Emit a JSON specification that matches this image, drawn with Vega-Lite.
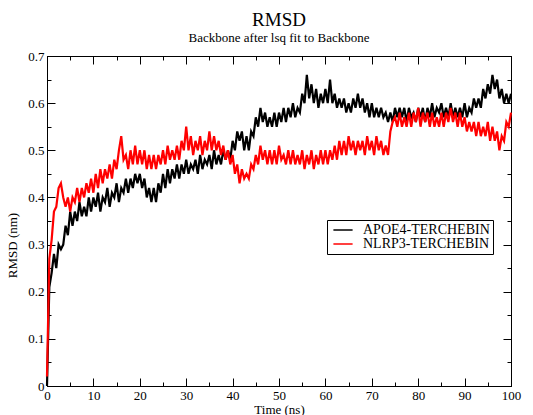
{
  "$schema": "https://vega.github.io/schema/vega-lite/v6.json",
  "width": 464,
  "height": 330,
  "autosize": {"type": "none"},
  "padding": {"left": 47, "top": 56, "right": 22, "bottom": 29},
  "background": "white",
  "config": {
    "font": "Liberation Serif",
    "view": {"stroke": "black", "strokeWidth": 1},
    "axis": {"labelFont": "Liberation Serif", "titleFont": "Liberation Serif"},
    "legend": {"labelFont": "Liberation Serif"}
  },
  "title": {
    "text": "RMSD",
    "subtitle": "Backbone after lsq fit to Backbone",
    "fontSize": 19,
    "fontWeight": "normal",
    "subtitleFontSize": 13,
    "subtitlePadding": 2,
    "offset": 5,
    "anchor": "middle",
    "color": "black",
    "subtitleColor": "black",
    "font": "Liberation Serif",
    "subtitleFont": "Liberation Serif"
  },
  "datasets": {
    "rmsd": [
{"t":0,"v":0.00,"s":"APOE4-TERCHEBIN"},{"t":0.5,"v":0.21,"s":"APOE4-TERCHEBIN"},{"t":1,"v":0.24,"s":"APOE4-TERCHEBIN"},{"t":1.5,"v":0.28,"s":"APOE4-TERCHEBIN"},{"t":2,"v":0.25,"s":"APOE4-TERCHEBIN"},{"t":2.5,"v":0.30,"s":"APOE4-TERCHEBIN"},{"t":3,"v":0.29,"s":"APOE4-TERCHEBIN"},{"t":3.5,"v":0.30,"s":"APOE4-TERCHEBIN"},{"t":4,"v":0.34,"s":"APOE4-TERCHEBIN"},{"t":4.5,"v":0.32,"s":"APOE4-TERCHEBIN"},
{"t":5,"v":0.37,"s":"APOE4-TERCHEBIN"},{"t":5.5,"v":0.34,"s":"APOE4-TERCHEBIN"},{"t":6,"v":0.37,"s":"APOE4-TERCHEBIN"},{"t":6.5,"v":0.35,"s":"APOE4-TERCHEBIN"},{"t":7,"v":0.39,"s":"APOE4-TERCHEBIN"},{"t":7.5,"v":0.36,"s":"APOE4-TERCHEBIN"},{"t":8,"v":0.38,"s":"APOE4-TERCHEBIN"},{"t":8.5,"v":0.36,"s":"APOE4-TERCHEBIN"},{"t":9,"v":0.40,"s":"APOE4-TERCHEBIN"},{"t":9.5,"v":0.37,"s":"APOE4-TERCHEBIN"},
{"t":10,"v":0.40,"s":"APOE4-TERCHEBIN"},{"t":10.5,"v":0.38,"s":"APOE4-TERCHEBIN"},{"t":11,"v":0.41,"s":"APOE4-TERCHEBIN"},{"t":11.5,"v":0.37,"s":"APOE4-TERCHEBIN"},{"t":12,"v":0.40,"s":"APOE4-TERCHEBIN"},{"t":12.5,"v":0.39,"s":"APOE4-TERCHEBIN"},{"t":13,"v":0.42,"s":"APOE4-TERCHEBIN"},{"t":13.5,"v":0.38,"s":"APOE4-TERCHEBIN"},{"t":14,"v":0.41,"s":"APOE4-TERCHEBIN"},{"t":14.5,"v":0.40,"s":"APOE4-TERCHEBIN"},
{"t":15,"v":0.43,"s":"APOE4-TERCHEBIN"},{"t":15.5,"v":0.39,"s":"APOE4-TERCHEBIN"},{"t":16,"v":0.42,"s":"APOE4-TERCHEBIN"},{"t":16.5,"v":0.41,"s":"APOE4-TERCHEBIN"},{"t":17,"v":0.44,"s":"APOE4-TERCHEBIN"},{"t":17.5,"v":0.41,"s":"APOE4-TERCHEBIN"},{"t":18,"v":0.44,"s":"APOE4-TERCHEBIN"},{"t":18.5,"v":0.42,"s":"APOE4-TERCHEBIN"},{"t":19,"v":0.45,"s":"APOE4-TERCHEBIN"},{"t":19.5,"v":0.43,"s":"APOE4-TERCHEBIN"},
{"t":20,"v":0.45,"s":"APOE4-TERCHEBIN"},{"t":20.5,"v":0.42,"s":"APOE4-TERCHEBIN"},{"t":21,"v":0.44,"s":"APOE4-TERCHEBIN"},{"t":21.5,"v":0.40,"s":"APOE4-TERCHEBIN"},{"t":22,"v":0.42,"s":"APOE4-TERCHEBIN"},{"t":22.5,"v":0.39,"s":"APOE4-TERCHEBIN"},{"t":23,"v":0.42,"s":"APOE4-TERCHEBIN"},{"t":23.5,"v":0.39,"s":"APOE4-TERCHEBIN"},{"t":24,"v":0.43,"s":"APOE4-TERCHEBIN"},{"t":24.5,"v":0.41,"s":"APOE4-TERCHEBIN"},
{"t":25,"v":0.45,"s":"APOE4-TERCHEBIN"},{"t":25.5,"v":0.42,"s":"APOE4-TERCHEBIN"},{"t":26,"v":0.46,"s":"APOE4-TERCHEBIN"},{"t":26.5,"v":0.43,"s":"APOE4-TERCHEBIN"},{"t":27,"v":0.46,"s":"APOE4-TERCHEBIN"},{"t":27.5,"v":0.44,"s":"APOE4-TERCHEBIN"},{"t":28,"v":0.47,"s":"APOE4-TERCHEBIN"},{"t":28.5,"v":0.44,"s":"APOE4-TERCHEBIN"},{"t":29,"v":0.47,"s":"APOE4-TERCHEBIN"},{"t":29.5,"v":0.45,"s":"APOE4-TERCHEBIN"},
{"t":30,"v":0.48,"s":"APOE4-TERCHEBIN"},{"t":30.5,"v":0.45,"s":"APOE4-TERCHEBIN"},{"t":31,"v":0.47,"s":"APOE4-TERCHEBIN"},{"t":31.5,"v":0.46,"s":"APOE4-TERCHEBIN"},{"t":32,"v":0.48,"s":"APOE4-TERCHEBIN"},{"t":32.5,"v":0.45,"s":"APOE4-TERCHEBIN"},{"t":33,"v":0.49,"s":"APOE4-TERCHEBIN"},{"t":33.5,"v":0.46,"s":"APOE4-TERCHEBIN"},{"t":34,"v":0.48,"s":"APOE4-TERCHEBIN"},{"t":34.5,"v":0.47,"s":"APOE4-TERCHEBIN"},
{"t":35,"v":0.49,"s":"APOE4-TERCHEBIN"},{"t":35.5,"v":0.46,"s":"APOE4-TERCHEBIN"},{"t":36,"v":0.50,"s":"APOE4-TERCHEBIN"},{"t":36.5,"v":0.47,"s":"APOE4-TERCHEBIN"},{"t":37,"v":0.49,"s":"APOE4-TERCHEBIN"},{"t":37.5,"v":0.47,"s":"APOE4-TERCHEBIN"},{"t":38,"v":0.50,"s":"APOE4-TERCHEBIN"},{"t":38.5,"v":0.48,"s":"APOE4-TERCHEBIN"},{"t":39,"v":0.50,"s":"APOE4-TERCHEBIN"},{"t":39.5,"v":0.48,"s":"APOE4-TERCHEBIN"},
{"t":40,"v":0.52,"s":"APOE4-TERCHEBIN"},{"t":40.5,"v":0.50,"s":"APOE4-TERCHEBIN"},{"t":41,"v":0.54,"s":"APOE4-TERCHEBIN"},{"t":41.5,"v":0.52,"s":"APOE4-TERCHEBIN"},{"t":42,"v":0.54,"s":"APOE4-TERCHEBIN"},{"t":42.5,"v":0.50,"s":"APOE4-TERCHEBIN"},{"t":43,"v":0.53,"s":"APOE4-TERCHEBIN"},{"t":43.5,"v":0.50,"s":"APOE4-TERCHEBIN"},{"t":44,"v":0.54,"s":"APOE4-TERCHEBIN"},{"t":44.5,"v":0.53,"s":"APOE4-TERCHEBIN"},
{"t":45,"v":0.57,"s":"APOE4-TERCHEBIN"},{"t":45.5,"v":0.55,"s":"APOE4-TERCHEBIN"},{"t":46,"v":0.59,"s":"APOE4-TERCHEBIN"},{"t":46.5,"v":0.56,"s":"APOE4-TERCHEBIN"},{"t":47,"v":0.58,"s":"APOE4-TERCHEBIN"},{"t":47.5,"v":0.55,"s":"APOE4-TERCHEBIN"},{"t":48,"v":0.57,"s":"APOE4-TERCHEBIN"},{"t":48.5,"v":0.55,"s":"APOE4-TERCHEBIN"},{"t":49,"v":0.58,"s":"APOE4-TERCHEBIN"},{"t":49.5,"v":0.55,"s":"APOE4-TERCHEBIN"},
{"t":50,"v":0.58,"s":"APOE4-TERCHEBIN"},{"t":50.5,"v":0.56,"s":"APOE4-TERCHEBIN"},{"t":51,"v":0.59,"s":"APOE4-TERCHEBIN"},{"t":51.5,"v":0.56,"s":"APOE4-TERCHEBIN"},{"t":52,"v":0.59,"s":"APOE4-TERCHEBIN"},{"t":52.5,"v":0.57,"s":"APOE4-TERCHEBIN"},{"t":53,"v":0.60,"s":"APOE4-TERCHEBIN"},{"t":53.5,"v":0.57,"s":"APOE4-TERCHEBIN"},{"t":54,"v":0.59,"s":"APOE4-TERCHEBIN"},{"t":54.5,"v":0.58,"s":"APOE4-TERCHEBIN"},
{"t":55,"v":0.62,"s":"APOE4-TERCHEBIN"},{"t":55.5,"v":0.60,"s":"APOE4-TERCHEBIN"},{"t":56,"v":0.66,"s":"APOE4-TERCHEBIN"},{"t":56.5,"v":0.61,"s":"APOE4-TERCHEBIN"},{"t":57,"v":0.64,"s":"APOE4-TERCHEBIN"},{"t":57.5,"v":0.60,"s":"APOE4-TERCHEBIN"},{"t":58,"v":0.63,"s":"APOE4-TERCHEBIN"},{"t":58.5,"v":0.59,"s":"APOE4-TERCHEBIN"},{"t":59,"v":0.62,"s":"APOE4-TERCHEBIN"},{"t":59.5,"v":0.60,"s":"APOE4-TERCHEBIN"},
{"t":60,"v":0.63,"s":"APOE4-TERCHEBIN"},{"t":60.5,"v":0.60,"s":"APOE4-TERCHEBIN"},{"t":61,"v":0.65,"s":"APOE4-TERCHEBIN"},{"t":61.5,"v":0.60,"s":"APOE4-TERCHEBIN"},{"t":62,"v":0.62,"s":"APOE4-TERCHEBIN"},{"t":62.5,"v":0.59,"s":"APOE4-TERCHEBIN"},{"t":63,"v":0.61,"s":"APOE4-TERCHEBIN"},{"t":63.5,"v":0.59,"s":"APOE4-TERCHEBIN"},{"t":64,"v":0.61,"s":"APOE4-TERCHEBIN"},{"t":64.5,"v":0.58,"s":"APOE4-TERCHEBIN"},
{"t":65,"v":0.60,"s":"APOE4-TERCHEBIN"},{"t":65.5,"v":0.58,"s":"APOE4-TERCHEBIN"},{"t":66,"v":0.61,"s":"APOE4-TERCHEBIN"},{"t":66.5,"v":0.59,"s":"APOE4-TERCHEBIN"},{"t":67,"v":0.62,"s":"APOE4-TERCHEBIN"},{"t":67.5,"v":0.59,"s":"APOE4-TERCHEBIN"},{"t":68,"v":0.61,"s":"APOE4-TERCHEBIN"},{"t":68.5,"v":0.58,"s":"APOE4-TERCHEBIN"},{"t":69,"v":0.60,"s":"APOE4-TERCHEBIN"},{"t":69.5,"v":0.57,"s":"APOE4-TERCHEBIN"},
{"t":70,"v":0.60,"s":"APOE4-TERCHEBIN"},{"t":70.5,"v":0.57,"s":"APOE4-TERCHEBIN"},{"t":71,"v":0.59,"s":"APOE4-TERCHEBIN"},{"t":71.5,"v":0.57,"s":"APOE4-TERCHEBIN"},{"t":72,"v":0.59,"s":"APOE4-TERCHEBIN"},{"t":72.5,"v":0.57,"s":"APOE4-TERCHEBIN"},{"t":73,"v":0.58,"s":"APOE4-TERCHEBIN"},{"t":73.5,"v":0.56,"s":"APOE4-TERCHEBIN"},{"t":74,"v":0.58,"s":"APOE4-TERCHEBIN"},{"t":74.5,"v":0.56,"s":"APOE4-TERCHEBIN"},
{"t":75,"v":0.59,"s":"APOE4-TERCHEBIN"},{"t":75.5,"v":0.57,"s":"APOE4-TERCHEBIN"},{"t":76,"v":0.59,"s":"APOE4-TERCHEBIN"},{"t":76.5,"v":0.57,"s":"APOE4-TERCHEBIN"},{"t":77,"v":0.59,"s":"APOE4-TERCHEBIN"},{"t":77.5,"v":0.56,"s":"APOE4-TERCHEBIN"},{"t":78,"v":0.59,"s":"APOE4-TERCHEBIN"},{"t":78.5,"v":0.57,"s":"APOE4-TERCHEBIN"},{"t":79,"v":0.58,"s":"APOE4-TERCHEBIN"},{"t":79.5,"v":0.56,"s":"APOE4-TERCHEBIN"},
{"t":80,"v":0.59,"s":"APOE4-TERCHEBIN"},{"t":80.5,"v":0.57,"s":"APOE4-TERCHEBIN"},{"t":81,"v":0.59,"s":"APOE4-TERCHEBIN"},{"t":81.5,"v":0.56,"s":"APOE4-TERCHEBIN"},{"t":82,"v":0.59,"s":"APOE4-TERCHEBIN"},{"t":82.5,"v":0.57,"s":"APOE4-TERCHEBIN"},{"t":83,"v":0.60,"s":"APOE4-TERCHEBIN"},{"t":83.5,"v":0.57,"s":"APOE4-TERCHEBIN"},{"t":84,"v":0.59,"s":"APOE4-TERCHEBIN"},{"t":84.5,"v":0.58,"s":"APOE4-TERCHEBIN"},
{"t":85,"v":0.60,"s":"APOE4-TERCHEBIN"},{"t":85.5,"v":0.57,"s":"APOE4-TERCHEBIN"},{"t":86,"v":0.59,"s":"APOE4-TERCHEBIN"},{"t":86.5,"v":0.57,"s":"APOE4-TERCHEBIN"},{"t":87,"v":0.60,"s":"APOE4-TERCHEBIN"},{"t":87.5,"v":0.57,"s":"APOE4-TERCHEBIN"},{"t":88,"v":0.59,"s":"APOE4-TERCHEBIN"},{"t":88.5,"v":0.57,"s":"APOE4-TERCHEBIN"},{"t":89,"v":0.59,"s":"APOE4-TERCHEBIN"},{"t":89.5,"v":0.57,"s":"APOE4-TERCHEBIN"},
{"t":90,"v":0.60,"s":"APOE4-TERCHEBIN"},{"t":90.5,"v":0.57,"s":"APOE4-TERCHEBIN"},{"t":91,"v":0.59,"s":"APOE4-TERCHEBIN"},{"t":91.5,"v":0.58,"s":"APOE4-TERCHEBIN"},{"t":92,"v":0.61,"s":"APOE4-TERCHEBIN"},{"t":92.5,"v":0.59,"s":"APOE4-TERCHEBIN"},{"t":93,"v":0.61,"s":"APOE4-TERCHEBIN"},{"t":93.5,"v":0.59,"s":"APOE4-TERCHEBIN"},{"t":94,"v":0.63,"s":"APOE4-TERCHEBIN"},{"t":94.5,"v":0.61,"s":"APOE4-TERCHEBIN"},
{"t":95,"v":0.64,"s":"APOE4-TERCHEBIN"},{"t":95.5,"v":0.62,"s":"APOE4-TERCHEBIN"},{"t":96,"v":0.66,"s":"APOE4-TERCHEBIN"},{"t":96.5,"v":0.63,"s":"APOE4-TERCHEBIN"},{"t":97,"v":0.65,"s":"APOE4-TERCHEBIN"},{"t":97.5,"v":0.61,"s":"APOE4-TERCHEBIN"},{"t":98,"v":0.63,"s":"APOE4-TERCHEBIN"},{"t":98.5,"v":0.60,"s":"APOE4-TERCHEBIN"},{"t":99,"v":0.62,"s":"APOE4-TERCHEBIN"},{"t":99.5,"v":0.60,"s":"APOE4-TERCHEBIN"},
{"t":100,"v":0.62,"s":"APOE4-TERCHEBIN"},
{"t":0,"v":0.02,"s":"NLRP3-TERCHEBIN"},{"t":0.5,"v":0.27,"s":"NLRP3-TERCHEBIN"},{"t":1,"v":0.31,"s":"NLRP3-TERCHEBIN"},{"t":1.5,"v":0.37,"s":"NLRP3-TERCHEBIN"},{"t":2,"v":0.38,"s":"NLRP3-TERCHEBIN"},{"t":2.5,"v":0.42,"s":"NLRP3-TERCHEBIN"},{"t":3,"v":0.43,"s":"NLRP3-TERCHEBIN"},{"t":3.5,"v":0.40,"s":"NLRP3-TERCHEBIN"},{"t":4,"v":0.38,"s":"NLRP3-TERCHEBIN"},{"t":4.5,"v":0.40,"s":"NLRP3-TERCHEBIN"},
{"t":5,"v":0.37,"s":"NLRP3-TERCHEBIN"},{"t":5.5,"v":0.40,"s":"NLRP3-TERCHEBIN"},{"t":6,"v":0.39,"s":"NLRP3-TERCHEBIN"},{"t":6.5,"v":0.42,"s":"NLRP3-TERCHEBIN"},{"t":7,"v":0.39,"s":"NLRP3-TERCHEBIN"},{"t":7.5,"v":0.42,"s":"NLRP3-TERCHEBIN"},{"t":8,"v":0.40,"s":"NLRP3-TERCHEBIN"},{"t":8.5,"v":0.43,"s":"NLRP3-TERCHEBIN"},{"t":9,"v":0.41,"s":"NLRP3-TERCHEBIN"},{"t":9.5,"v":0.44,"s":"NLRP3-TERCHEBIN"},
{"t":10,"v":0.41,"s":"NLRP3-TERCHEBIN"},{"t":10.5,"v":0.45,"s":"NLRP3-TERCHEBIN"},{"t":11,"v":0.42,"s":"NLRP3-TERCHEBIN"},{"t":11.5,"v":0.46,"s":"NLRP3-TERCHEBIN"},{"t":12,"v":0.43,"s":"NLRP3-TERCHEBIN"},{"t":12.5,"v":0.46,"s":"NLRP3-TERCHEBIN"},{"t":13,"v":0.44,"s":"NLRP3-TERCHEBIN"},{"t":13.5,"v":0.47,"s":"NLRP3-TERCHEBIN"},{"t":14,"v":0.44,"s":"NLRP3-TERCHEBIN"},{"t":14.5,"v":0.48,"s":"NLRP3-TERCHEBIN"},
{"t":15,"v":0.46,"s":"NLRP3-TERCHEBIN"},{"t":15.5,"v":0.50,"s":"NLRP3-TERCHEBIN"},{"t":16,"v":0.53,"s":"NLRP3-TERCHEBIN"},{"t":16.5,"v":0.48,"s":"NLRP3-TERCHEBIN"},{"t":17,"v":0.49,"s":"NLRP3-TERCHEBIN"},{"t":17.5,"v":0.46,"s":"NLRP3-TERCHEBIN"},{"t":18,"v":0.50,"s":"NLRP3-TERCHEBIN"},{"t":18.5,"v":0.47,"s":"NLRP3-TERCHEBIN"},{"t":19,"v":0.51,"s":"NLRP3-TERCHEBIN"},{"t":19.5,"v":0.47,"s":"NLRP3-TERCHEBIN"},
{"t":20,"v":0.50,"s":"NLRP3-TERCHEBIN"},{"t":20.5,"v":0.47,"s":"NLRP3-TERCHEBIN"},{"t":21,"v":0.50,"s":"NLRP3-TERCHEBIN"},{"t":21.5,"v":0.46,"s":"NLRP3-TERCHEBIN"},{"t":22,"v":0.49,"s":"NLRP3-TERCHEBIN"},{"t":22.5,"v":0.46,"s":"NLRP3-TERCHEBIN"},{"t":23,"v":0.49,"s":"NLRP3-TERCHEBIN"},{"t":23.5,"v":0.46,"s":"NLRP3-TERCHEBIN"},{"t":24,"v":0.49,"s":"NLRP3-TERCHEBIN"},{"t":24.5,"v":0.47,"s":"NLRP3-TERCHEBIN"},
{"t":25,"v":0.50,"s":"NLRP3-TERCHEBIN"},{"t":25.5,"v":0.47,"s":"NLRP3-TERCHEBIN"},{"t":26,"v":0.51,"s":"NLRP3-TERCHEBIN"},{"t":26.5,"v":0.48,"s":"NLRP3-TERCHEBIN"},{"t":27,"v":0.50,"s":"NLRP3-TERCHEBIN"},{"t":27.5,"v":0.48,"s":"NLRP3-TERCHEBIN"},{"t":28,"v":0.51,"s":"NLRP3-TERCHEBIN"},{"t":28.5,"v":0.48,"s":"NLRP3-TERCHEBIN"},{"t":29,"v":0.52,"s":"NLRP3-TERCHEBIN"},{"t":29.5,"v":0.50,"s":"NLRP3-TERCHEBIN"},
{"t":30,"v":0.55,"s":"NLRP3-TERCHEBIN"},{"t":30.5,"v":0.50,"s":"NLRP3-TERCHEBIN"},{"t":31,"v":0.53,"s":"NLRP3-TERCHEBIN"},{"t":31.5,"v":0.49,"s":"NLRP3-TERCHEBIN"},{"t":32,"v":0.52,"s":"NLRP3-TERCHEBIN"},{"t":32.5,"v":0.50,"s":"NLRP3-TERCHEBIN"},{"t":33,"v":0.53,"s":"NLRP3-TERCHEBIN"},{"t":33.5,"v":0.49,"s":"NLRP3-TERCHEBIN"},{"t":34,"v":0.52,"s":"NLRP3-TERCHEBIN"},{"t":34.5,"v":0.50,"s":"NLRP3-TERCHEBIN"},
{"t":35,"v":0.54,"s":"NLRP3-TERCHEBIN"},{"t":35.5,"v":0.50,"s":"NLRP3-TERCHEBIN"},{"t":36,"v":0.53,"s":"NLRP3-TERCHEBIN"},{"t":36.5,"v":0.50,"s":"NLRP3-TERCHEBIN"},{"t":37,"v":0.52,"s":"NLRP3-TERCHEBIN"},{"t":37.5,"v":0.49,"s":"NLRP3-TERCHEBIN"},{"t":38,"v":0.51,"s":"NLRP3-TERCHEBIN"},{"t":38.5,"v":0.48,"s":"NLRP3-TERCHEBIN"},{"t":39,"v":0.50,"s":"NLRP3-TERCHEBIN"},{"t":39.5,"v":0.47,"s":"NLRP3-TERCHEBIN"},
{"t":40,"v":0.49,"s":"NLRP3-TERCHEBIN"},{"t":40.5,"v":0.45,"s":"NLRP3-TERCHEBIN"},{"t":41,"v":0.47,"s":"NLRP3-TERCHEBIN"},{"t":41.5,"v":0.43,"s":"NLRP3-TERCHEBIN"},{"t":42,"v":0.46,"s":"NLRP3-TERCHEBIN"},{"t":42.5,"v":0.44,"s":"NLRP3-TERCHEBIN"},{"t":43,"v":0.45,"s":"NLRP3-TERCHEBIN"},{"t":43.5,"v":0.44,"s":"NLRP3-TERCHEBIN"},{"t":44,"v":0.47,"s":"NLRP3-TERCHEBIN"},{"t":44.5,"v":0.46,"s":"NLRP3-TERCHEBIN"},
{"t":45,"v":0.49,"s":"NLRP3-TERCHEBIN"},{"t":45.5,"v":0.47,"s":"NLRP3-TERCHEBIN"},{"t":46,"v":0.51,"s":"NLRP3-TERCHEBIN"},{"t":46.5,"v":0.48,"s":"NLRP3-TERCHEBIN"},{"t":47,"v":0.50,"s":"NLRP3-TERCHEBIN"},{"t":47.5,"v":0.47,"s":"NLRP3-TERCHEBIN"},{"t":48,"v":0.50,"s":"NLRP3-TERCHEBIN"},{"t":48.5,"v":0.47,"s":"NLRP3-TERCHEBIN"},{"t":49,"v":0.50,"s":"NLRP3-TERCHEBIN"},{"t":49.5,"v":0.47,"s":"NLRP3-TERCHEBIN"},
{"t":50,"v":0.51,"s":"NLRP3-TERCHEBIN"},{"t":50.5,"v":0.48,"s":"NLRP3-TERCHEBIN"},{"t":51,"v":0.49,"s":"NLRP3-TERCHEBIN"},{"t":51.5,"v":0.47,"s":"NLRP3-TERCHEBIN"},{"t":52,"v":0.50,"s":"NLRP3-TERCHEBIN"},{"t":52.5,"v":0.47,"s":"NLRP3-TERCHEBIN"},{"t":53,"v":0.50,"s":"NLRP3-TERCHEBIN"},{"t":53.5,"v":0.47,"s":"NLRP3-TERCHEBIN"},{"t":54,"v":0.49,"s":"NLRP3-TERCHEBIN"},{"t":54.5,"v":0.47,"s":"NLRP3-TERCHEBIN"},
{"t":55,"v":0.50,"s":"NLRP3-TERCHEBIN"},{"t":55.5,"v":0.46,"s":"NLRP3-TERCHEBIN"},{"t":56,"v":0.49,"s":"NLRP3-TERCHEBIN"},{"t":56.5,"v":0.47,"s":"NLRP3-TERCHEBIN"},{"t":57,"v":0.50,"s":"NLRP3-TERCHEBIN"},{"t":57.5,"v":0.46,"s":"NLRP3-TERCHEBIN"},{"t":58,"v":0.49,"s":"NLRP3-TERCHEBIN"},{"t":58.5,"v":0.47,"s":"NLRP3-TERCHEBIN"},{"t":59,"v":0.50,"s":"NLRP3-TERCHEBIN"},{"t":59.5,"v":0.47,"s":"NLRP3-TERCHEBIN"},
{"t":60,"v":0.50,"s":"NLRP3-TERCHEBIN"},{"t":60.5,"v":0.47,"s":"NLRP3-TERCHEBIN"},{"t":61,"v":0.50,"s":"NLRP3-TERCHEBIN"},{"t":61.5,"v":0.48,"s":"NLRP3-TERCHEBIN"},{"t":62,"v":0.51,"s":"NLRP3-TERCHEBIN"},{"t":62.5,"v":0.48,"s":"NLRP3-TERCHEBIN"},{"t":63,"v":0.52,"s":"NLRP3-TERCHEBIN"},{"t":63.5,"v":0.49,"s":"NLRP3-TERCHEBIN"},{"t":64,"v":0.52,"s":"NLRP3-TERCHEBIN"},{"t":64.5,"v":0.49,"s":"NLRP3-TERCHEBIN"},
{"t":65,"v":0.53,"s":"NLRP3-TERCHEBIN"},{"t":65.5,"v":0.50,"s":"NLRP3-TERCHEBIN"},{"t":66,"v":0.52,"s":"NLRP3-TERCHEBIN"},{"t":66.5,"v":0.49,"s":"NLRP3-TERCHEBIN"},{"t":67,"v":0.52,"s":"NLRP3-TERCHEBIN"},{"t":67.5,"v":0.50,"s":"NLRP3-TERCHEBIN"},{"t":68,"v":0.52,"s":"NLRP3-TERCHEBIN"},{"t":68.5,"v":0.49,"s":"NLRP3-TERCHEBIN"},{"t":69,"v":0.53,"s":"NLRP3-TERCHEBIN"},{"t":69.5,"v":0.50,"s":"NLRP3-TERCHEBIN"},
{"t":70,"v":0.52,"s":"NLRP3-TERCHEBIN"},{"t":70.5,"v":0.49,"s":"NLRP3-TERCHEBIN"},{"t":71,"v":0.53,"s":"NLRP3-TERCHEBIN"},{"t":71.5,"v":0.50,"s":"NLRP3-TERCHEBIN"},{"t":72,"v":0.52,"s":"NLRP3-TERCHEBIN"},{"t":72.5,"v":0.49,"s":"NLRP3-TERCHEBIN"},{"t":73,"v":0.51,"s":"NLRP3-TERCHEBIN"},{"t":73.5,"v":0.49,"s":"NLRP3-TERCHEBIN"},{"t":74,"v":0.54,"s":"NLRP3-TERCHEBIN"},{"t":74.5,"v":0.56,"s":"NLRP3-TERCHEBIN"},
{"t":75,"v":0.57,"s":"NLRP3-TERCHEBIN"},{"t":75.5,"v":0.55,"s":"NLRP3-TERCHEBIN"},{"t":76,"v":0.58,"s":"NLRP3-TERCHEBIN"},{"t":76.5,"v":0.55,"s":"NLRP3-TERCHEBIN"},{"t":77,"v":0.57,"s":"NLRP3-TERCHEBIN"},{"t":77.5,"v":0.55,"s":"NLRP3-TERCHEBIN"},{"t":78,"v":0.58,"s":"NLRP3-TERCHEBIN"},{"t":78.5,"v":0.55,"s":"NLRP3-TERCHEBIN"},{"t":79,"v":0.58,"s":"NLRP3-TERCHEBIN"},{"t":79.5,"v":0.56,"s":"NLRP3-TERCHEBIN"},
{"t":80,"v":0.59,"s":"NLRP3-TERCHEBIN"},{"t":80.5,"v":0.55,"s":"NLRP3-TERCHEBIN"},{"t":81,"v":0.58,"s":"NLRP3-TERCHEBIN"},{"t":81.5,"v":0.56,"s":"NLRP3-TERCHEBIN"},{"t":82,"v":0.58,"s":"NLRP3-TERCHEBIN"},{"t":82.5,"v":0.55,"s":"NLRP3-TERCHEBIN"},{"t":83,"v":0.58,"s":"NLRP3-TERCHEBIN"},{"t":83.5,"v":0.55,"s":"NLRP3-TERCHEBIN"},{"t":84,"v":0.57,"s":"NLRP3-TERCHEBIN"},{"t":84.5,"v":0.55,"s":"NLRP3-TERCHEBIN"},
{"t":85,"v":0.58,"s":"NLRP3-TERCHEBIN"},{"t":85.5,"v":0.55,"s":"NLRP3-TERCHEBIN"},{"t":86,"v":0.58,"s":"NLRP3-TERCHEBIN"},{"t":86.5,"v":0.56,"s":"NLRP3-TERCHEBIN"},{"t":87,"v":0.59,"s":"NLRP3-TERCHEBIN"},{"t":87.5,"v":0.56,"s":"NLRP3-TERCHEBIN"},{"t":88,"v":0.58,"s":"NLRP3-TERCHEBIN"},{"t":88.5,"v":0.55,"s":"NLRP3-TERCHEBIN"},{"t":89,"v":0.58,"s":"NLRP3-TERCHEBIN"},{"t":89.5,"v":0.55,"s":"NLRP3-TERCHEBIN"},
{"t":90,"v":0.57,"s":"NLRP3-TERCHEBIN"},{"t":90.5,"v":0.54,"s":"NLRP3-TERCHEBIN"},{"t":91,"v":0.56,"s":"NLRP3-TERCHEBIN"},{"t":91.5,"v":0.54,"s":"NLRP3-TERCHEBIN"},{"t":92,"v":0.56,"s":"NLRP3-TERCHEBIN"},{"t":92.5,"v":0.53,"s":"NLRP3-TERCHEBIN"},{"t":93,"v":0.56,"s":"NLRP3-TERCHEBIN"},{"t":93.5,"v":0.53,"s":"NLRP3-TERCHEBIN"},{"t":94,"v":0.55,"s":"NLRP3-TERCHEBIN"},{"t":94.5,"v":0.53,"s":"NLRP3-TERCHEBIN"},
{"t":95,"v":0.56,"s":"NLRP3-TERCHEBIN"},{"t":95.5,"v":0.52,"s":"NLRP3-TERCHEBIN"},{"t":96,"v":0.55,"s":"NLRP3-TERCHEBIN"},{"t":96.5,"v":0.52,"s":"NLRP3-TERCHEBIN"},{"t":97,"v":0.54,"s":"NLRP3-TERCHEBIN"},{"t":97.5,"v":0.50,"s":"NLRP3-TERCHEBIN"},{"t":98,"v":0.53,"s":"NLRP3-TERCHEBIN"},{"t":98.5,"v":0.52,"s":"NLRP3-TERCHEBIN"},{"t":99,"v":0.56,"s":"NLRP3-TERCHEBIN"},{"t":99.5,"v":0.55,"s":"NLRP3-TERCHEBIN"},
{"t":100,"v":0.58,"s":"NLRP3-TERCHEBIN"}
    ]
  },
  "data": {"name": "rmsd"},
  "layer": [
    {
      "mark": {"type": "line", "strokeWidth": 2.2, "interpolate": "linear", "strokeJoin": "miter"},
      "encoding": {
        "x": {
          "field": "t", "type": "quantitative",
          "scale": {"domain": [0, 100], "nice": false, "zero": false},
          "axis": {
            "orient": "bottom",
            "title": "Time (ns)",
            "titleFont": "Liberation Serif", "titleFontSize": 13, "titleFontWeight": "normal", "titleColor": "black",
            "titlePadding": 1,
            "values": [0,5,10,15,20,25,30,35,40,45,50,55,60,65,70,75,80,85,90,95,100],
            "labelExpr": "datum.value % 10 === 0 ? datum.label : ''",
            "labelFont": "Liberation Serif", "labelFontSize": 13, "labelColor": "black",
            "labelPadding": 11,
            "labelFlush": false,
            "tickSize": {"condition": {"test": "datum.value % 10 === 0", "value": -8}, "value": -4},
            "tickColor": "black",
            "tickWidth": 1,
            "domainColor": "black",
            "grid": false
          }
        },
        "y": {
          "field": "v", "type": "quantitative",
          "scale": {"domain": [0, 0.7], "nice": false},
          "axis": {
            "orient": "left",
            "title": "RMSD (nm)",
            "titleFont": "Liberation Serif", "titleFontSize": 13, "titleFontWeight": "normal", "titleColor": "black",
            "titleX": -28,
            "titleY": 189,
            "values": [0,0.05,0.1,0.15,0.2,0.25,0.3,0.35,0.4,0.45,0.5,0.55,0.6,0.65,0.7],
            "labelExpr": "round(datum.value*100) % 10 === 0 ? format(datum.value, '~g') : ''",
            "labelFont": "Liberation Serif", "labelFontSize": 13, "labelColor": "black",
            "labelPadding": 11,
            "labelFlush": false,
            "tickSize": {"condition": {"test": "round(datum.value*100) % 10 === 0", "value": -8}, "value": -4},
            "tickColor": "black",
            "domainColor": "black",
            "grid": false
          }
        },
        "color": {
          "field": "s", "type": "nominal",
          "scale": {"domain": ["APOE4-TERCHEBIN", "NLRP3-TERCHEBIN"], "range": ["#000000", "#ff0000"]},
          "legend": {
            "title": null,
            "orient": "none",
            "legendX": 280,
            "legendY": 164,
            "direction": "vertical",
            "symbolType": "M-1.6,0H1.6",
            "symbolSize": 144,
            "symbolStrokeWidth": 1.5,
            "symbolOffset": 6,
            "labelFont": "Liberation Serif",
            "labelFontSize": 14,
            "labelColor": "black",
            "labelOffset": 13,
            "rowPadding": 0,
            "padding": 3,
            "strokeColor": "black",
            "fillColor": "white"
          }
        }
      }
    },
    {
      "mark": {"type": "point", "opacity": 0},
      "encoding": {
        "x": {
          "field": "t", "type": "quantitative",
          "axis": {
            "orient": "top", "title": null, "labels": false,
            "values": [0,5,10,15,20,25,30,35,40,45,50,55,60,65,70,75,80,85,90,95,100],
            "tickSize": {"condition": {"test": "datum.value % 10 === 0", "value": -8}, "value": -4},
            "tickColor": "black", "domainColor": "black", "grid": false
          }
        },
        "y": {
          "field": "v", "type": "quantitative",
          "axis": {
            "orient": "right", "title": null, "labels": false,
            "values": [0,0.05,0.1,0.15,0.2,0.25,0.3,0.35,0.4,0.45,0.5,0.55,0.6,0.65,0.7],
            "tickSize": {"condition": {"test": "round(datum.value*100) % 10 === 0", "value": -8}, "value": -4},
            "tickColor": "black", "domainColor": "black", "grid": false
          }
        }
      }
    }
  ],
  "resolve": {"axis": {"x": "independent", "y": "independent"}}
}
